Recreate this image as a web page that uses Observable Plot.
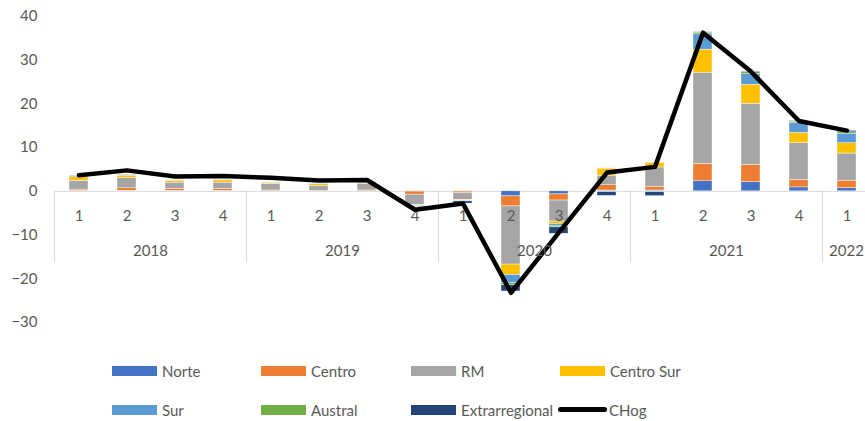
<!DOCTYPE html>
<html><head><meta charset="utf-8">
<script src="https://cdn.jsdelivr.net/npm/d3@7"></script>
<script src="https://cdn.jsdelivr.net/npm/@observablehq/plot@0.6"></script>
<style>
html,body{margin:0;padding:0;overflow:hidden;background:#fff;width:865px;height:421px}
#wrap{position:relative;width:865px;height:421px;overflow:hidden;font-family:Lato,"Liberation Sans",sans-serif;color:#595959}
#wrap svg{position:absolute;left:0;top:0;max-width:none !important}
.item{position:absolute;display:flex;align-items:center;font-size:15px;white-space:nowrap;transform:translateY(-50%)}
.sw{width:45px;height:10px;margin-right:5px}
.ln{width:49px;height:5px;border-radius:3px;background:#000;margin-right:2px}
</style></head><body><div id="wrap"></div>
<script>
const categories = ["2018-1","2018-2","2018-3","2018-4","2019-1","2019-2","2019-3","2019-4","2020-1","2020-2","2020-3","2020-4","2021-1","2021-2","2021-3","2021-4","2022-1"];
const quarterLabels = ["1","2","3","4","1","2","3","4","1","2","3","4","1","2","3","4","1"];
const years = ["2018","2019","2020","2021","2022"];
const yearOfCategory = ["2018","2018","2018","2018","2019","2019","2019","2019","2020","2020","2020","2020","2021","2021","2021","2021","2022"];
const seriesNames = ["Norte","Centro","RM","Centro Sur","Sur","Austral","Extrarregional"];
const seriesColors = ["#4472C4","#ED7D31","#A5A5A5","#FFC000","#5B9BD5","#70AD47","#264478"];
const norte          = [0.1, 0.15, 0.1, 0.1, 0.05, 0.05, 0.05, -0.05, -0.05, -1.15, -0.7, 0.2, 0.2, 2.3, 2.1, 0.9, 0.75];
const centro         = [0.3, 0.55, 0.45, 0.45, 0.15, 0.1, 0.15, -0.7, -0.4, -2.3, -1.4, 1.2, 0.76, 3.96, 3.96, 1.7, 1.7];
const rm             = [2.0, 2.35, 1.45, 1.45, 1.5, 1.15, 1.5, -2.4, -1.5, -13.3, -4.8, 2.2, 4.5, 20.9, 14.0, 8.46, 6.2];
const centroSur      = [0.85, 0.55, 0.45, 0.5, 0.3, 0.35, 0.2, -0.1, -0.15, -2.4, -0.55, 1.6, 1.0, 5.26, 4.34, 2.36, 2.36];
const sur            = [0.25, 0.1, 0.05, 0.05, 0.05, 0.05, 0.2, -0.2, -0.15, -1.9, -0.4, -0.2, -0.2, 3.5, 2.4, 2.2, 2.2];
const austral        = [0.05, 0.05, 0.05, 0.05, 0.02, 0.02, 0.05, -0.05, -0.05, -0.4, -0.4, 0.05, 0.05, 0.4, 0.5, 0.3, 0.3];
const extrarregional = [0.05, 0.05, 0.02, 0.02, 0.02, 0.02, 0.02, -0.05, -0.5, -1.45, -1.45, -0.85, -0.9, 0.1, 0.1, 0.15, 0.35];
const chog           = [3.7, 4.8, 3.4, 3.5, 3.1, 2.5, 2.6, -4.2, -2.8, -23.2, -9.4, 4.3, 5.6, 36.3, 27.4, 16.1, 13.9];
const yTicks = [-30, -20, -10, 0, 10, 20, 30, 40];
const lineName = "CHog";

const seriesValues = [norte, centro, rm, centroSur, sur, austral, extrarregional];
const table = [];
seriesNames.forEach((s, k) => categories.forEach((c, i) => table.push({cat: c, series: s, value: seriesValues[k][i]})));
const lineTable = categories.map((c, i) => ({cat: c, value: chog[i]}));

const textColor = "#595959";
const chart = Plot.plot({
  width: 872, height: 345,
  marginLeft: 54, marginRight: 0, marginTop: 16, marginBottom: 23,
  style: {fontFamily: 'Lato, "Liberation Sans", sans-serif', fontSize: "15px", color: textColor, background: "#fff", overflow: "visible", maxWidth: "none"},
  x: {domain: categories, paddingInner: 0.6, paddingOuter: 0.3, axis: null},
  y: {domain: [-30, 40], axis: null},
  color: {domain: seriesNames, range: seriesColors},
  marks: [
    Plot.axisY({ticks: yTicks, tickSize: 0, tickPadding: 17, fontSize: 15, fill: textColor, label: null}),
    Plot.ruleY([0], {stroke: "#d9d9d9", strokeWidth: 1}),
    Plot.barY(table, {x: "cat", y: "value", fill: "series", stroke: "#fff", strokeWidth: 0.4}),
    Plot.text(categories, {x: d => d, y: () => 0, text: (d, i) => quarterLabels[i], dy: 25, fontSize: 15, fill: textColor}),
    Plot.line(lineTable, {x: "cat", y: "value", stroke: "#000", strokeWidth: 4.5, strokeLinejoin: "round"})
  ]
});

// year group separators and labels from the chart's own x scale
const xs = chart.scale("x"), ys = chart.scale("y");
const step = xs.step, bw = xs.bandwidth;
const gap = (step - bw) / 2;
const y0 = ys.apply(0);
const svg = d3.select(chart);
const g = svg.insert("g", ":first-child");
years.forEach(yr => {
  const cats = categories.filter((c, i) => yearOfCategory[i] === yr);
  const start = xs.apply(cats[0]) - gap;
  const end = xs.apply(cats[cats.length - 1]) + bw + gap;
  g.append("line").attr("x1", start).attr("x2", start).attr("y1", y0).attr("y2", y0 + 72)
    .attr("stroke", "#d9d9d9").attr("stroke-width", 1);
  svg.append("text").attr("x", (start + end) / 2).attr("y", y0 + 60).attr("dy", "0.32em")
    .attr("text-anchor", "middle").attr("fill", textColor).attr("font-size", 15).text(yr);
});
document.getElementById("wrap").appendChild(chart);

// legend
const wrap = document.getElementById("wrap");
const colLeft = [112, 261, 411, 560];
const rowY = [370.5, 409.5];
const items = seriesNames.map((s, k) => ({name: s, color: seriesColors[k], line: false}));
items.push({name: lineName, color: "#000", line: true});
items.forEach((it, k) => {
  const d = document.createElement("div");
  d.className = "item";
  d.style.left = (it.line ? 558 : colLeft[k % 4]) + "px";
  d.style.top = rowY[Math.floor(k / 4)] + "px";
  const sw = document.createElement("span");
  sw.className = it.line ? "ln" : "sw";
  sw.style.background = it.color;
  d.appendChild(sw);
  const t = document.createElement("span");
  t.textContent = it.name;
  d.appendChild(t);
  wrap.appendChild(d);
});
</script></body></html>
